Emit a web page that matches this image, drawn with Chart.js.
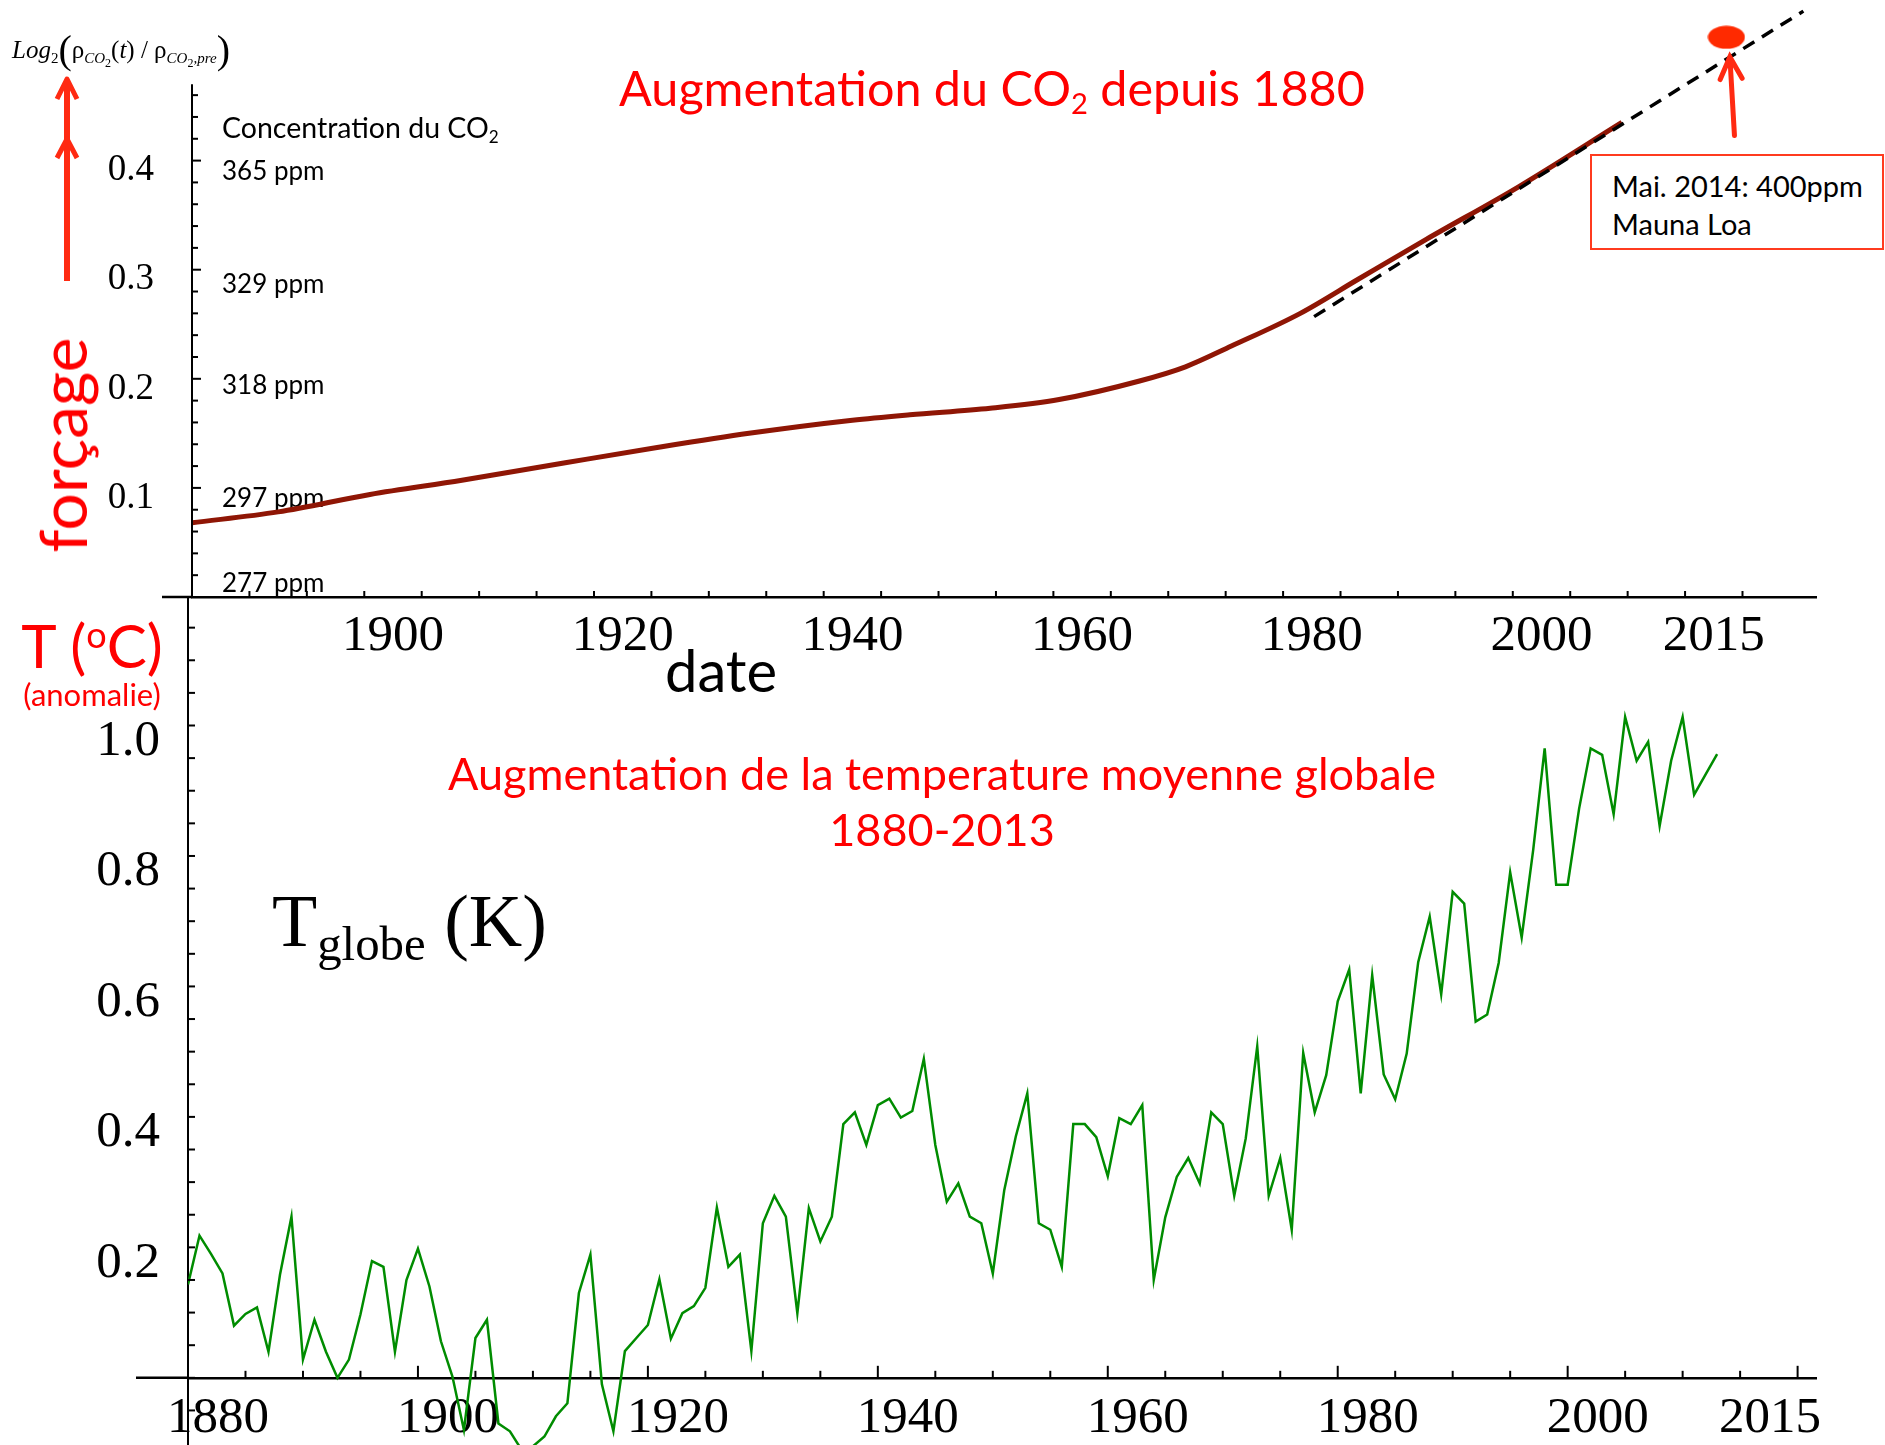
<!DOCTYPE html>
<html>
<head>
<meta charset="utf-8">
<script src="https://cdn.jsdelivr.net/npm/chart.js@4.4.1/dist/chart.umd.min.js"></script>
<style>
  html, body { margin: 0; padding: 0; background: #fff; }
  #wrap { position: relative; width: 1885px; height: 1445px; overflow: hidden; }
  canvas { position: absolute; left: 0; top: 0; }
  .lbl { position: absolute; white-space: nowrap; font-family: Lato, "Open Sans", sans-serif; line-height: 1; }
  .c { transform: translate(-50%, -50%); }
  .red { color: #ff0000; }
  sub { font-size: 0.6em; vertical-align: -0.3em; line-height: 0; }
  #formula { left: 12px; top: 50px; font-family: "Liberation Serif", serif; font-size: 25px; transform: translateY(-50%); }
  #formula sub { font-size: 0.6em; }
  #formula sub sub { font-size: 0.8em; }
  #formula .p { font-size: 1.6em; vertical-align: -0.12em; font-weight: 100; }
  #forcage { left: 62px; top: 445px; font-size: 66px; transform: translate(-50%, -50%) rotate(-90deg); }
  #tdeg { left: 92px; top: 645px; font-size: 60px; }
  #tdeg sup { font-size: 0.6em; vertical-align: 0.55em; line-height: 0; }
  #anom { left: 92px; top: 694px; font-size: 31px; }
  #date { left: 721px; top: 670px; font-size: 58px; color: #000; }
  #title1 { left: 992px; top: 87px; font-size: 48.5px; }
  #conc { left: 222px; top: 127px; font-size: 28.5px; transform: translateY(-50%); }
  #box { left: 1590px; top: 154px; width: 294px; height: 96px; box-sizing: border-box; border: 2px solid #ff3b1f;
         font-size: 29px; line-height: 38px; padding: 11px 0 0 20px; background: #fff; }
  #title2a { left: 942px; top: 773px; font-size: 45px; }
  #title2b { left: 942px; top: 829px; font-size: 45px; }
  #tglobe { left: 272px; top: 884px; font-family: "Liberation Serif", serif; font-size: 74px; }
  #tglobe sub { font-size: 0.66em; vertical-align: -0.28em; }
</style>
</head>
<body>
<div id="wrap">
  <canvas id="co2" width="1885" height="1445"></canvas>
  <canvas id="temp" width="1885" height="1445"></canvas>

  <svg style="position:absolute;left:0;top:0" width="140" height="300">
    <path d="M67 281 L67 80" stroke="#ff2a12" stroke-width="6" fill="none"/>
    <polyline points="57,99 67,79 77,99" stroke="#ff2a12" stroke-width="5" fill="none" stroke-linejoin="round"/>
    <polyline points="57,158 67,139 77,158" stroke="#ff2a12" stroke-width="5" fill="none" stroke-linejoin="round"/>
  </svg>

  <div id="formula" class="lbl"><i>Log</i><sub>2</sub><span class="p">(</span>ρ<sub><i>CO</i><sub>2</sub></sub>(<i>t</i>) / ρ<sub><i>CO</i><sub>2</sub><i>,pre</i></sub><span class="p">)</span></div>
  <div id="forcage" class="lbl red">forçage</div>
  <div id="tdeg" class="lbl c red">T (<sup>o</sup>C)</div>
  <div id="anom" class="lbl c red">(anomalie)</div>
  <div id="date" class="lbl c">date</div>
  <div id="title1" class="lbl c red">Augmentation du CO<sub>2</sub> depuis 1880</div>
  <div id="conc" class="lbl">Concentration du CO<sub>2</sub></div>
  <div id="box" class="lbl">Mai. 2014: 400ppm<br>Mauna Loa</div>
  <div id="title2a" class="lbl c red">Augmentation de la temperature moyenne globale</div>
  <div id="title2b" class="lbl c red">1880-2013</div>
  <div id="tglobe" class="lbl">T<sub>globe</sub> (K)</div>
</div>

<script>
// ---- upper panel: CO2 forcing log2(C/Cpre) ----
const co2Years = [1882.5, 1890, 1898, 1906, 1915, 1923, 1931, 1940, 1945, 1952, 1958, 1965, 1969, 1973, 1979, 1984, 1990, 1998, 2007];
const co2Forcing = [0.068, 0.078, 0.094, 0.107, 0.123, 0.137, 0.150, 0.162, 0.167, 0.173, 0.181, 0.198, 0.211, 0.230, 0.260, 0.291, 0.328, 0.376, 0.435];

// dashed extrapolation and the Mauna Loa point
const trendYears = [1980.2, 2022.8];
const trendForcing = [0.257, 0.537];
const maunaLoaYear = 2016.1;
const maunaLoaForcing = 0.513;
const arrowTip = [2016.4, 0.495];
const arrowTail = [2016.8, 0.423];

const topYearLabels = [1900, 1920, 1940, 1960, 1980, 2000, 2015];
const topForcingLabels = [0.1, 0.2, 0.3, 0.4];
const ppmTickValues = [0.012, 0.090, 0.194, 0.286, 0.390];
const ppmLabels = ['277 ppm', '297 ppm', '318 ppm', '329 ppm', '365 ppm'];

// ---- lower panel: global temperature anomaly 1880-2013 ----
const tempStartYear = 1880;
const tempAnomaly = [
  0.143, 0.218, 0.190, 0.160, 0.080, 0.098, 0.108, 0.040, 0.158, 0.247,   // 1880s
  0.028, 0.089, 0.040, 0.000, 0.028, 0.097, 0.179, 0.170, 0.040, 0.150,   // 1890s
  0.198, 0.140, 0.056, 0.002, -0.080, 0.061, 0.089, -0.070, -0.082, -0.110, // 1900s
  -0.105, -0.090, -0.059, -0.039, 0.130, 0.189, -0.010, -0.082, 0.041, 0.061, // 1910s
  0.081, 0.151, 0.060, 0.099, 0.110, 0.138, 0.261, 0.170, 0.189, 0.041,   // 1920s
  0.237, 0.279, 0.247, 0.099, 0.260, 0.209, 0.247, 0.389, 0.407, 0.357,   // 1930s
  0.418, 0.428, 0.399, 0.409, 0.489, 0.357, 0.270, 0.298, 0.247, 0.237,   // 1940s
  0.160, 0.288, 0.370, 0.436, 0.237, 0.227, 0.170, 0.389, 0.389, 0.369,   // 1950s
  0.309, 0.398, 0.389, 0.418, 0.150, 0.246, 0.308, 0.337, 0.298, 0.407,   // 1960s
  0.389, 0.279, 0.367, 0.508, 0.279, 0.337, 0.227, 0.498, 0.407, 0.464,   // 1970s
  0.577, 0.626, 0.436, 0.617, 0.465, 0.427, 0.497, 0.637, 0.707, 0.588,   // 1980s
  0.745, 0.727, 0.546, 0.557, 0.636, 0.775, 0.675, 0.809, 0.965, 0.756,   // 1990s
  0.756, 0.873, 0.965, 0.955, 0.864, 1.013, 0.946, 0.975, 0.846, 0.946,   // 2000s
  1.013, 0.894, 0.925, 0.956                                              // 2010-2013
];
const bottomYearLabels = [1880, 1900, 1920, 1940, 1960, 1980, 2000, 2015];
const bottomTempLabels = [0.2, 0.4, 0.6, 0.8, 1.0];

const serif = 'Liberation Serif';

// keep the chart area exactly where the layout padding puts it
const noOverflow = s => {
  s.paddingTop = 0;
  s.paddingBottom = 0;
  s.paddingLeft = 0;
  s.paddingRight = 0;
};

// inward tick marks, axis stubs, like the Mathematica frame
const axisDecor = {
  id: 'axisDecor',
  afterDraw(chart, args, o) {
    const {ctx, chartArea} = chart;
    const xs = chart.scales.x, ys = chart.scales.y;
    const left = chartArea.left;
    const axisY = ys.getPixelForValue(o.xAxisAt);
    const isMajor = (v, m) => m && Math.abs(v / m - Math.round(v / m)) < 1e-6;
    ctx.save();
    ctx.strokeStyle = '#000';
    if (o.yLineTop !== undefined) {
      ctx.lineWidth = 2;
      ctx.beginPath();
      ctx.moveTo(left, ys.getPixelForValue(o.yLineTop));
      ctx.lineTo(left, axisY);
      ctx.stroke();
    }
    ctx.lineWidth = 2.5;
    ctx.beginPath();
    ctx.moveTo(left - o.xExtend, axisY);
    ctx.lineTo(left, axisY);
    ctx.stroke();

    ctx.lineWidth = 2;
    for (let k = 0; ; k++) {
      const v = o.xTickStart + k * o.xTickStep;
      if (v > o.xTickEnd + 1e-9) break;
      const px = xs.getPixelForValue(v);
      ctx.beginPath();
      ctx.moveTo(px, axisY);
      ctx.lineTo(px, axisY - (isMajor(v, o.xMajor) ? o.xMajorLen : o.xLen));
      ctx.stroke();
    }
    for (let k = 0; ; k++) {
      const v = o.yTickStart + k * o.yTickStep;
      if (v > o.yTickEnd + 1e-9) break;
      const py = ys.getPixelForValue(v);
      ctx.beginPath();
      ctx.moveTo(left, py);
      ctx.lineTo(left + (isMajor(v, o.yMajor) ? o.yMajorLen : o.yLen), py);
      ctx.stroke();
    }
    ctx.restore();
  }
};

// red arrow pointing at the extrapolated line
const pointer = {
  id: 'pointer',
  afterDraw(chart) {
    const {ctx} = chart;
    const xs = chart.scales.x, ys = chart.scales.y;
    const tx = xs.getPixelForValue(arrowTip[0]), ty = ys.getPixelForValue(arrowTip[1]);
    const bx = xs.getPixelForValue(arrowTail[0]), by = ys.getPixelForValue(arrowTail[1]);
    const len = Math.hypot(tx - bx, ty - by);
    const ux = (tx - bx) / len, uy = (ty - by) / len;
    ctx.save();
    ctx.strokeStyle = '#ff2a12';
    ctx.lineWidth = 5;
    ctx.lineCap = 'round';
    ctx.beginPath();
    ctx.moveTo(bx, by);
    ctx.lineTo(tx, ty);
    ctx.moveTo(tx - ux * 22 - uy * 11, ty - uy * 22 + ux * 11);
    ctx.lineTo(tx, ty);
    ctx.lineTo(tx - ux * 22 + uy * 11, ty - uy * 22 - ux * 11);
    ctx.stroke();
    ctx.restore();
  }
};

const dot = document.createElement('canvas');
dot.width = 38; dot.height = 24;
const dctx = dot.getContext('2d');
dctx.fillStyle = '#ff2a00';
dctx.beginPath();
dctx.ellipse(19, 12, 18.5, 11.5, 0, 0, Math.PI * 2);
dctx.fill();

new Chart(document.getElementById('co2'), {
  type: 'line',
  data: {
    datasets: [
      {
        label: 'tendance',
        data: trendYears.map((x, i) => ({x, y: trendForcing[i]})),
        borderColor: '#000',
        borderWidth: 3.5,
        borderDash: [13, 9],
        pointRadius: 0,
        order: 0
      },
      {
        label: 'Mauna Loa',
        data: [{x: maunaLoaYear, y: maunaLoaForcing}],
        showLine: false,
        pointStyle: dot,
        pointRadius: 19,
        order: 0
      },
      {
        label: 'CO2',
        data: co2Years.map((x, i) => ({x, y: co2Forcing[i]})),
        borderColor: '#8f1605',
        borderWidth: 5,
        pointRadius: 0,
        cubicInterpolationMode: 'monotone',
        order: 1
      }
    ]
  },
  options: {
    responsive: false,
    animation: false,
    events: [],
    layout: {autoPadding: false, padding: {top: 0, left: 0, right: 69, bottom: 788}},
    plugins: {
      legend: {display: false},
      tooltip: {enabled: false},
      axisDecor: {
        xAxisAt: 0, xExtend: 30,
        xTickStart: 1887.5, xTickEnd: 2017.5, xTickStep: 5, xLen: 6,
        yTickStart: 0.02, yTickEnd: 0.46, yTickStep: 0.02, yLen: 6, yMajor: 0.1, yMajorLen: 9,
        yLineTop: 0.47
      }
    },
    scales: {
      x: {
        type: 'linear',
        min: 1882.5,
        max: 2023.9,
        afterBuildTicks: s => { s.ticks = topYearLabels.map(v => ({value: v})); },
        afterFit: s => { s.height = 60; noOverflow(s); },
        ticks: {
          callback: v => String(v),
          font: {family: serif, size: 51},
          color: '#000',
          padding: 9,
          maxRotation: 0,
          autoSkip: false
        },
        grid: {display: false, drawTicks: false},
        border: {color: '#000', width: 2.5}
      },
      y: {
        type: 'linear',
        min: 0,
        max: 0.5472,
        weight: 1,
        afterBuildTicks: s => { s.ticks = topForcingLabels.map(v => ({value: v})); },
        afterFit: s => { s.width = 192; noOverflow(s); },
        ticks: {
          callback: v => v.toFixed(1),
          font: {family: serif, size: 37},
          color: '#000',
          padding: 38,
          labelOffset: 10
        },
        grid: {display: false, drawTicks: false},
        border: {display: false}
      },
      ppm: {
        type: 'linear',
        position: 'left',
        min: 0,
        max: 0.5472,
        weight: 0,
        afterBuildTicks: s => { s.ticks = ppmTickValues.map(v => ({value: v})); },
        afterFit: s => { s.width = 0; noOverflow(s); },
        ticks: {
          callback: (v, i) => ppmLabels[i],
          mirror: true,
          font: {family: 'Lato', size: 26},
          color: '#000',
          padding: 30
        },
        grid: {display: false, drawTicks: false},
        border: {display: false}
      }
    }
  },
  plugins: [axisDecor, pointer]
});

new Chart(document.getElementById('temp'), {
  type: 'line',
  data: {
    datasets: [{
      label: 'T globe',
      data: tempAnomaly.map((y, i) => ({x: tempStartYear + i, y})),
      borderColor: '#008c00',
      borderWidth: 2.5,
      pointRadius: 0,
      tension: 0
    }]
  },
  options: {
    responsive: false,
    animation: false,
    events: [],
    layout: {autoPadding: false, padding: {top: 597, left: 0, right: 69, bottom: 0}},
    plugins: {
      legend: {display: false},
      tooltip: {enabled: false},
      axisDecor: {
        xAxisAt: 0, xExtend: 52,
        xTickStart: 1885, xTickEnd: 2020, xTickStep: 5, xLen: 7, xMajor: 20, xMajorLen: 12,
        yTickStart: -0.05, yTickEnd: 1.15, yTickStep: 0.05, yLen: 7
      }
    },
    scales: {
      x: {
        type: 'linear',
        position: {y: 0},
        min: 1880,
        max: 2021.6,
        afterBuildTicks: s => { s.ticks = bottomYearLabels.map(v => ({value: v})); },
        afterFit: noOverflow,
        ticks: {
          callback: v => String(v),
          font: {family: serif, size: 51},
          color: '#000',
          padding: 10,
          labelOffset: 30,
          maxRotation: 0,
          autoSkip: false
        },
        grid: {display: false, drawTicks: false},
        border: {color: '#000', width: 2.5}
      },
      y: {
        type: 'linear',
        min: -0.103,
        max: 1.197,
        afterBuildTicks: s => { s.ticks = bottomTempLabels.map(v => ({value: v})); },
        afterFit: s => { s.width = 188; noOverflow(s); },
        ticks: {
          callback: v => v.toFixed(1),
          font: {family: serif, size: 51},
          color: '#000',
          padding: 28,
          labelOffset: 16
        },
        grid: {display: false, drawTicks: false},
        border: {color: '#000', width: 2}
      }
    }
  },
  plugins: [axisDecor]
});
</script>
</body>
</html>
